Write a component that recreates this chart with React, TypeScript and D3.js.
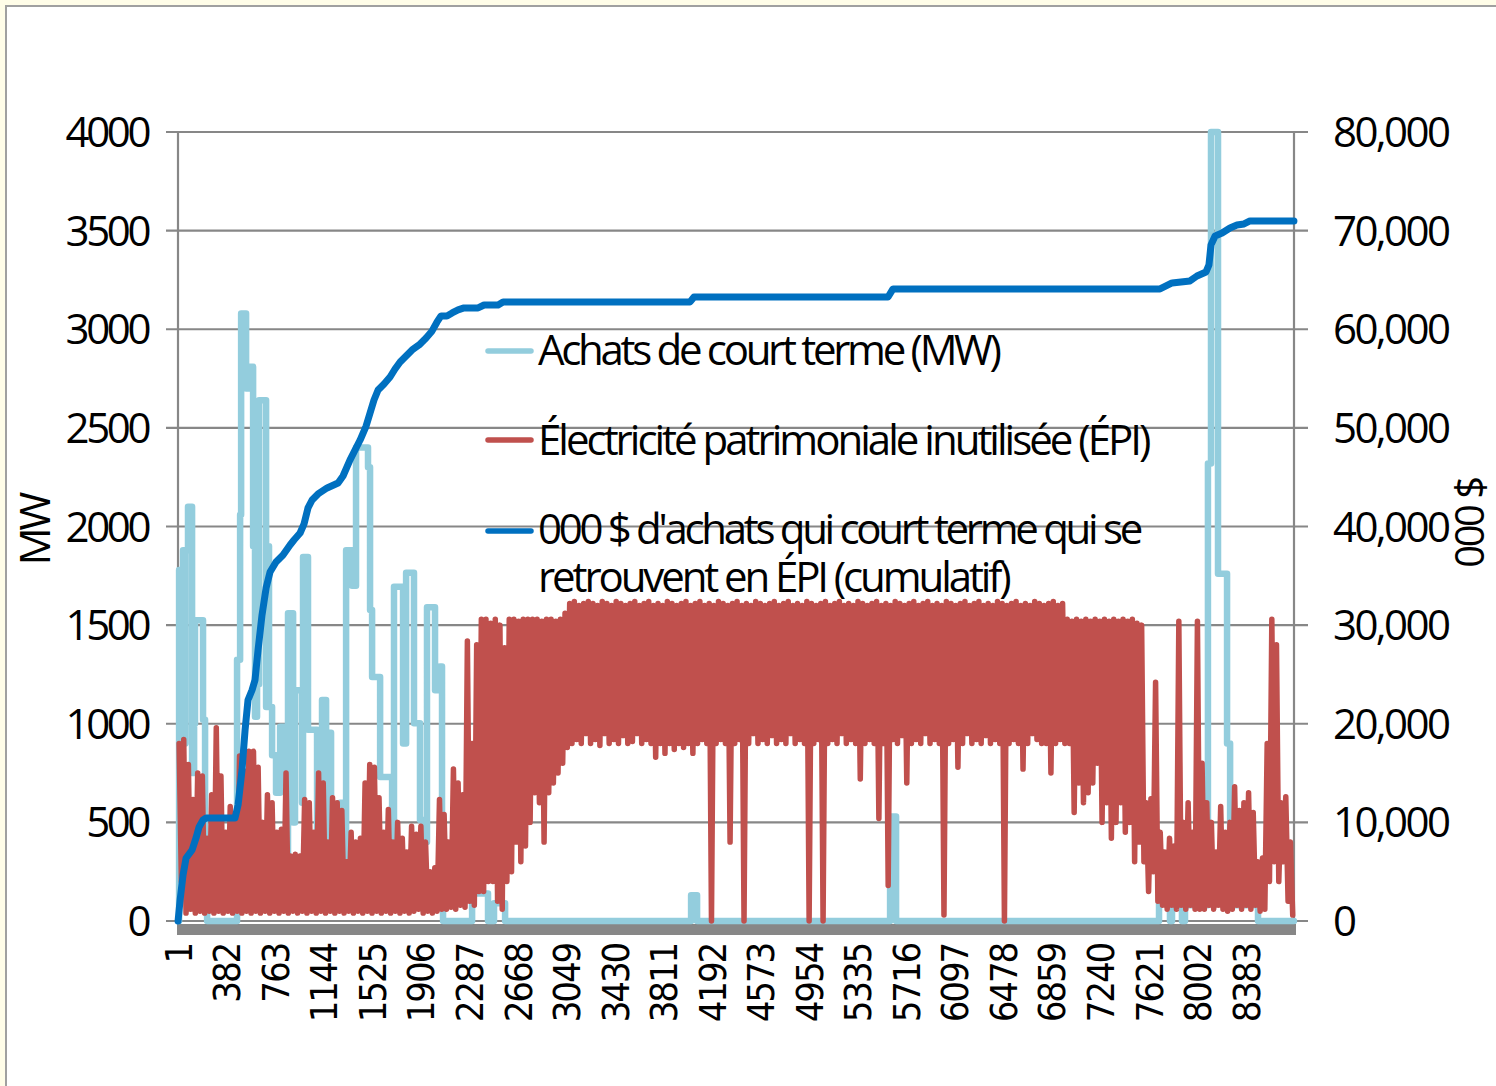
import React from 'react';
import * as d3 from 'd3';

// ---------- DATA ----------
const xTickCats = [1, 382, 763, 1144, 1525, 1906, 2287, 2668, 3049, 3430, 3811, 4192, 4573, 4954, 5335, 5716, 6097, 6478, 6859, 7240, 7621, 8002, 8383];
const leftTicks = [0, 500, 1000, 1500, 2000, 2500, 3000, 3500, 4000];
const leftTickLabels = ['0', '500', '1000', '1500', '2000', '2500', '3000', '3500', '4000'];
const rightTicks = [0, 10000, 20000, 30000, 40000, 50000, 60000, 70000, 80000];
const rightTickLabels = ['0', '10,000', '20,000', '30,000', '40,000', '50,000', '60,000', '70,000', '80,000'];

const legendLabels = [
  'Achats de court terme (MW)',
  'Électricité patrimoniale inutilisée (ÉPI)',
  "000 $ d'achats qui court terme qui se",
  'retrouvent en ÉPI (cumulatif)',
];

// Achats de court terme (MW) — breakpoints (hour, MW), held until next breakpoint
const buyHours = [1, 9, 20, 24, 32, 40, 55, 59, 72, 79, 103, 111, 127, 134, 189, 197, 213, 229, 456, 464, 488, 496, 527, 535, 550, 566, 582, 590, 605, 621, 637, 676, 692, 707, 715, 739, 770, 802, 833, 857, 864, 896, 904, 919, 959, 974, 982, 1014, 1021, 1076, 1092, 1116, 1131, 1147, 1163, 1178, 1202, 1226, 1241, 1273, 1304, 1320, 1351, 1367, 1398, 1492, 1508, 1524, 1571, 1587, 1665, 1681, 1696, 1751, 1767, 1791, 1838, 1853, 1885, 1900, 1932, 1955, 2002, 2018, 2057, 2073, 2081, 2293, 2309, 2419, 2434, 2473, 2481, 2552, 2568, 4020, 4028, 4067, 4075, 5582, 5590, 5629, 5637, 7693, 7701, 7771, 7787, 7803, 7865, 7881, 7905, 8078, 8085, 8101, 8109, 8148, 8164, 8219, 8235, 8259, 8282, 8470, 8478, 8760];
const buyMW = [0, 1780, 600, 1780, 1780, 1880, 900, 1880, 1880, 2100, 2100, 750, 1000, 1525, 1525, 1020, 300, 0, 0, 1325, 2060, 3080, 3080, 2700, 2700, 2810, 2810, 1900, 1035, 1200, 2640, 2640, 1085, 1900, 1085, 840, 650, 985, 700, 300, 1560, 1560, 500, 1170, 1170, 600, 1845, 1845, 970, 970, 300, 500, 1120, 1120, 400, 955, 475, 200, 497, 600, 100, 1880, 1880, 1700, 2400, 2300, 1577, 1237, 1237, 730, 730, 400, 1695, 1695, 900, 1765, 1765, 1003, 1003, 512, 400, 1590, 1590, 1170, 1290, 400, 0, 0, 140, 140, 0, 0, 90, 90, 0, 0, 130, 130, 0, 0, 530, 530, 0, 0, 105, 105, 0, 170, 170, 0, 80, 80, 2320, 2320, 4000, 4000, 1760, 1760, 900, 300, 80, 80, 0, 0];

// Électricité patrimoniale inutilisée (MW) — per 36.5-hour block: high and low
const EPI_BLOCK = 36.5;
const epiHigh = [
  900, 920, 794, 616, 750, 735, 420, 640, 980, 735,
  450, 580, 500, 836, 760, 860, 860, 780, 500, 640,
  600, 450, 465, 750, 330, 338, 330, 616, 600, 450,
  750, 700, 400, 625, 600, 560, 300, 450, 400, 420,
  700, 794, 780, 625, 450, 565, 400, 500, 420, 350,
  480, 440, 480, 400, 250, 270, 616, 540, 400, 770,
  700, 640, 1420, 900, 1400, 1530, 1530, 1510, 1530, 1500,
  1385, 1530, 1530, 1520, 1530, 1530, 1530, 1530, 1520, 1530,
  1530, 1520, 1530, 1560, 1610, 1620, 1600, 1610, 1620, 1610,
  1600, 1620, 1610, 1600, 1620, 1610, 1600, 1610, 1620, 1600,
  1610, 1620, 1600, 1610, 1600, 1620, 1610, 1600, 1610, 1620,
  1600, 1610, 1620, 1600, 1610, 1600, 1620, 1610, 1600, 1610,
  1620, 1600, 1610, 1600, 1620, 1610, 1600, 1610, 1620, 1600,
  1610, 1620, 1600, 1610, 1600, 1620, 1610, 1600, 1610, 1620,
  1600, 1610, 1620, 1600, 1610, 1600, 1620, 1610, 1600, 1610,
  1620, 1600, 1610, 1600, 1620, 1610, 1600, 1610, 1620, 1600,
  1610, 1620, 1600, 1610, 1600, 1620, 1610, 1600, 1610, 1620,
  1600, 1610, 1620, 1600, 1610, 1600, 1620, 1610, 1600, 1610,
  1620, 1600, 1610, 1600, 1620, 1610, 1600, 1610, 1620, 1600,
  1610, 1530, 1520, 1530, 1520, 1530, 1520, 1530, 1520, 1530,
  1520, 1530, 1520, 1530, 1520, 1530, 1510, 1500, 600, 620,
  1210, 450, 350, 420, 380, 1520, 500, 600, 450, 1520,
  800, 600, 500, 350, 580, 450, 500, 680, 560, 600,
  650, 550, 300, 320, 900, 1530, 1400, 600, 630, 400,
];
const epiLow = [
  200, 40, 60, 40, 50, 40, 50, 40, 50, 40,
  50, 40, 50, 40, 50, 40, 50, 40, 50, 40,
  50, 40, 50, 40, 50, 40, 50, 40, 50, 40,
  50, 40, 50, 40, 50, 40, 50, 40, 50, 40,
  50, 40, 50, 40, 50, 40, 50, 40, 50, 40,
  50, 60, 40, 50, 40, 50, 60, 60, 70, 60,
  80, 70, 100, 80, 150, 150, 200, 200, 100, 60,
  200, 250, 400, 300, 380, 500, 650, 600, 400, 650,
  700, 750, 800, 880, 900, 920, 900, 950, 900, 920,
  890, 950, 900, 920, 900, 940, 900, 910, 950, 900,
  920, 900, 830, 900, 850, 900, 870, 900, 880, 900,
  850, 900, 920, 900, 0, 900, 920, 900, 400, 900,
  920, 0, 900, 950, 900, 920, 900, 940, 900, 920,
  900, 950, 900, 920, 900, 0, 900, 920, 0, 900,
  920, 900, 950, 900, 920, 900, 720, 900, 920, 900,
  520, 900, 180, 920, 900, 940, 700, 900, 920, 900,
  950, 900, 920, 900, 30, 900, 920, 780, 900, 950,
  900, 920, 900, 940, 900, 920, 900, 0, 900, 920,
  900, 770, 900, 950, 920, 900, 900, 750, 900, 920,
  900, 900, 550, 700, 600, 650, 700, 800, 500, 600,
  420, 500, 600, 450, 500, 300, 400, 300, 150, 250,
  100, 80, 60, 80, 60, 80, 60, 80, 60, 60,
  60, 80, 60, 80, 60, 50, 60, 80, 60, 80,
  60, 80, 50, 60, 200, 300, 200, 300, 100, 30,
];

// Cumulative 000 $ — breakpoints (hour, value)
const cumHours = [1, 17, 40, 64, 111, 142, 166, 197, 221, 448, 472, 503, 527, 550, 582, 605, 629, 660, 692, 723, 770, 825, 880, 911, 959, 990, 1021, 1053, 1100, 1171, 1257, 1296, 1351, 1430, 1477, 1508, 1539, 1571, 1618, 1665, 1704, 1744, 1791, 1838, 1893, 1948, 1995, 2034, 2065, 2112, 2152, 2199, 2246, 2356, 2403, 2513, 2552, 4020, 4051, 5574, 5613, 7709, 7756, 7803, 7944, 7999, 8070, 8093, 8109, 8141, 8196, 8258, 8313, 8368, 8415, 8760];
const cumK = [0, 2130, 4660, 6390, 7200, 8420, 9530, 10240, 10440, 10440, 11760, 15310, 19370, 22410, 23420, 24440, 27480, 31030, 33770, 35390, 36400, 37110, 38130, 38630, 39340, 40260, 41880, 42690, 43300, 43910, 44410, 45120, 46750, 48770, 50190, 51510, 52830, 53840, 54450, 55160, 55970, 56680, 57290, 57900, 58410, 59120, 59830, 60740, 61350, 61350, 61650, 61960, 62160, 62160, 62460, 62460, 62770, 62770, 63270, 63270, 64090, 64090, 64390, 64700, 64900, 65400, 65810, 66520, 68550, 69460, 69760, 70270, 70570, 70680, 70980, 70980];

// ---------- STYLE ----------
const C_BUY = '#93CDDD';
const C_EPI = '#C0504D';
const C_CUM = '#0070C0';
const C_GRID = '#878787';
const FONT = "'Open Sans', 'Noto Sans', sans-serif";
const FONT_X = "'DejaVu Sans Condensed', 'DejaVu Sans', sans-serif";

export default function App() {
  const W = 1496, H = 1086;
  const left = 178, right = 1294, top = 132, bottom = 921;
  const x = d3.scaleLinear().domain([0.5, 8760.5]).range([left, right]);
  const y = d3.scaleLinear().domain([0, 4000]).range([bottom, top]);
  const y2 = d3.scaleLinear().domain([0, 80000]).range([bottom, top]);

  const buyPts: [number, number][] = buyHours.map((h, i) => [h, buyMW[i]]);
  const epiPts: [number, number][] = [];
  epiHigh.forEach((hv, i) => {
    epiPts.push([i * EPI_BLOCK + 9, hv]);
    epiPts.push([i * EPI_BLOCK + 27, epiLow[i]]);
  });
  const cumPts: [number, number][] = cumHours.map((h, i) => [h, cumK[i]]);

  const lineStep = d3.line<[number, number]>().x(d => x(d[0])).y(d => y(d[1])).curve(d3.curveStepAfter);
  const lineL = d3.line<[number, number]>().x(d => x(d[0])).y(d => y(d[1]));
  const lineR = d3.line<[number, number]>().x(d => x(d[0])).y(d => y2(d[1]));

  const legendY = [351, 440, 531];
  const legendColors = [C_BUY, C_EPI, C_CUM];

  return (
    <svg width={W} height={H} style={{ position: 'absolute', left: 0, top: 0, display: 'block' }}>
      <rect x={0} y={0} width={W} height={H} fill="#FFFDE8" />
      <rect x={6} y={6} width={W + 20} height={H + 20} fill="#FFFFFF" stroke="#A0A0A0" strokeWidth={2} />

      {/* gridlines */}
      {leftTicks.map(t => (
        <line key={'g' + t} x1={166} x2={1308} y1={y(t)} y2={y(t)} stroke={C_GRID} strokeWidth={2.2} />
      ))}
      <line x1={left} x2={left} y1={top} y2={bottom} stroke={C_GRID} strokeWidth={2.2} />
      <line x1={right} x2={right} y1={top} y2={bottom} stroke={C_GRID} strokeWidth={2.2} />
      {/* dense category tick marks */}
      <rect x={left - 1} y={924} width={right - left + 3} height={11} fill={C_GRID} />

      {/* series */}
      <path d={lineStep(buyPts) || ''} fill="none" stroke={C_BUY} strokeWidth={6.5} strokeLinejoin="round" strokeLinecap="round" />
      <path d={lineL(epiPts) || ''} fill="none" stroke={C_EPI} strokeWidth={5.5} strokeLinejoin="round" strokeLinecap="round" />
      <path d={lineR(cumPts) || ''} fill="none" stroke={C_CUM} strokeWidth={7} strokeLinejoin="round" strokeLinecap="round" />

      {/* left tick labels */}
      {leftTicks.map((t, i) => (
        <text key={'l' + t} x={148} y={y(t)} dy="0.36em" textAnchor="end" fontFamily={FONT} fontSize={42} letterSpacing={-3.4} fill="#000">
          {leftTickLabels[i]}
        </text>
      ))}
      {/* right tick labels */}
      {rightTicks.map((t, i) => (
        <text key={'r' + t} x={1333} y={y2(t)} dy="0.36em" textAnchor="start" fontFamily={FONT} fontSize={42} letterSpacing={-2.6} fill="#000">
          {rightTickLabels[i]}
        </text>
      ))}
      {/* x tick labels */}
      {xTickCats.map(c => (
        <text key={'x' + c} transform={`translate(${x(c)},944) rotate(-90)`} dy="0.36em" textAnchor="end" fontFamily={FONT_X} fontStretch="condensed" fontSize={38} letterSpacing={-2.2} fill="#000">
          {String(c)}
        </text>
      ))}

      {/* axis titles */}
      <text transform="translate(35,530) rotate(-90)" dy="0.36em" textAnchor="middle" fontFamily={FONT} fontSize={42} letterSpacing={-3} fill="#000">MW</text>
      <text transform="translate(1470,523) rotate(-90)" dy="0.36em" textAnchor="middle" fontFamily={FONT} fontSize={40} letterSpacing={-2.5} fill="#000">000 $</text>

      {/* legend */}
      {legendY.map((ly, i) => (
        <line key={'lg' + i} x1={488} x2={531} y1={ly} y2={ly} stroke={legendColors[i]} strokeWidth={5.5} strokeLinecap="round" />
      ))}
      <text x={538} y={365} fontFamily={FONT} fontSize={42} letterSpacing={-3.3} fill="#000">{legendLabels[0]}</text>
      <text x={538} y={455} fontFamily={FONT} fontSize={42} letterSpacing={-3} fill="#000">{legendLabels[1]}</text>
      <text x={538} y={544} fontFamily={FONT} fontSize={42} letterSpacing={-3.3} fill="#000">{legendLabels[2]}</text>
      <text x={538} y={592} fontFamily={FONT} fontSize={42} letterSpacing={-3.1} fill="#000">{legendLabels[3]}</text>
    </svg>
  );
}
